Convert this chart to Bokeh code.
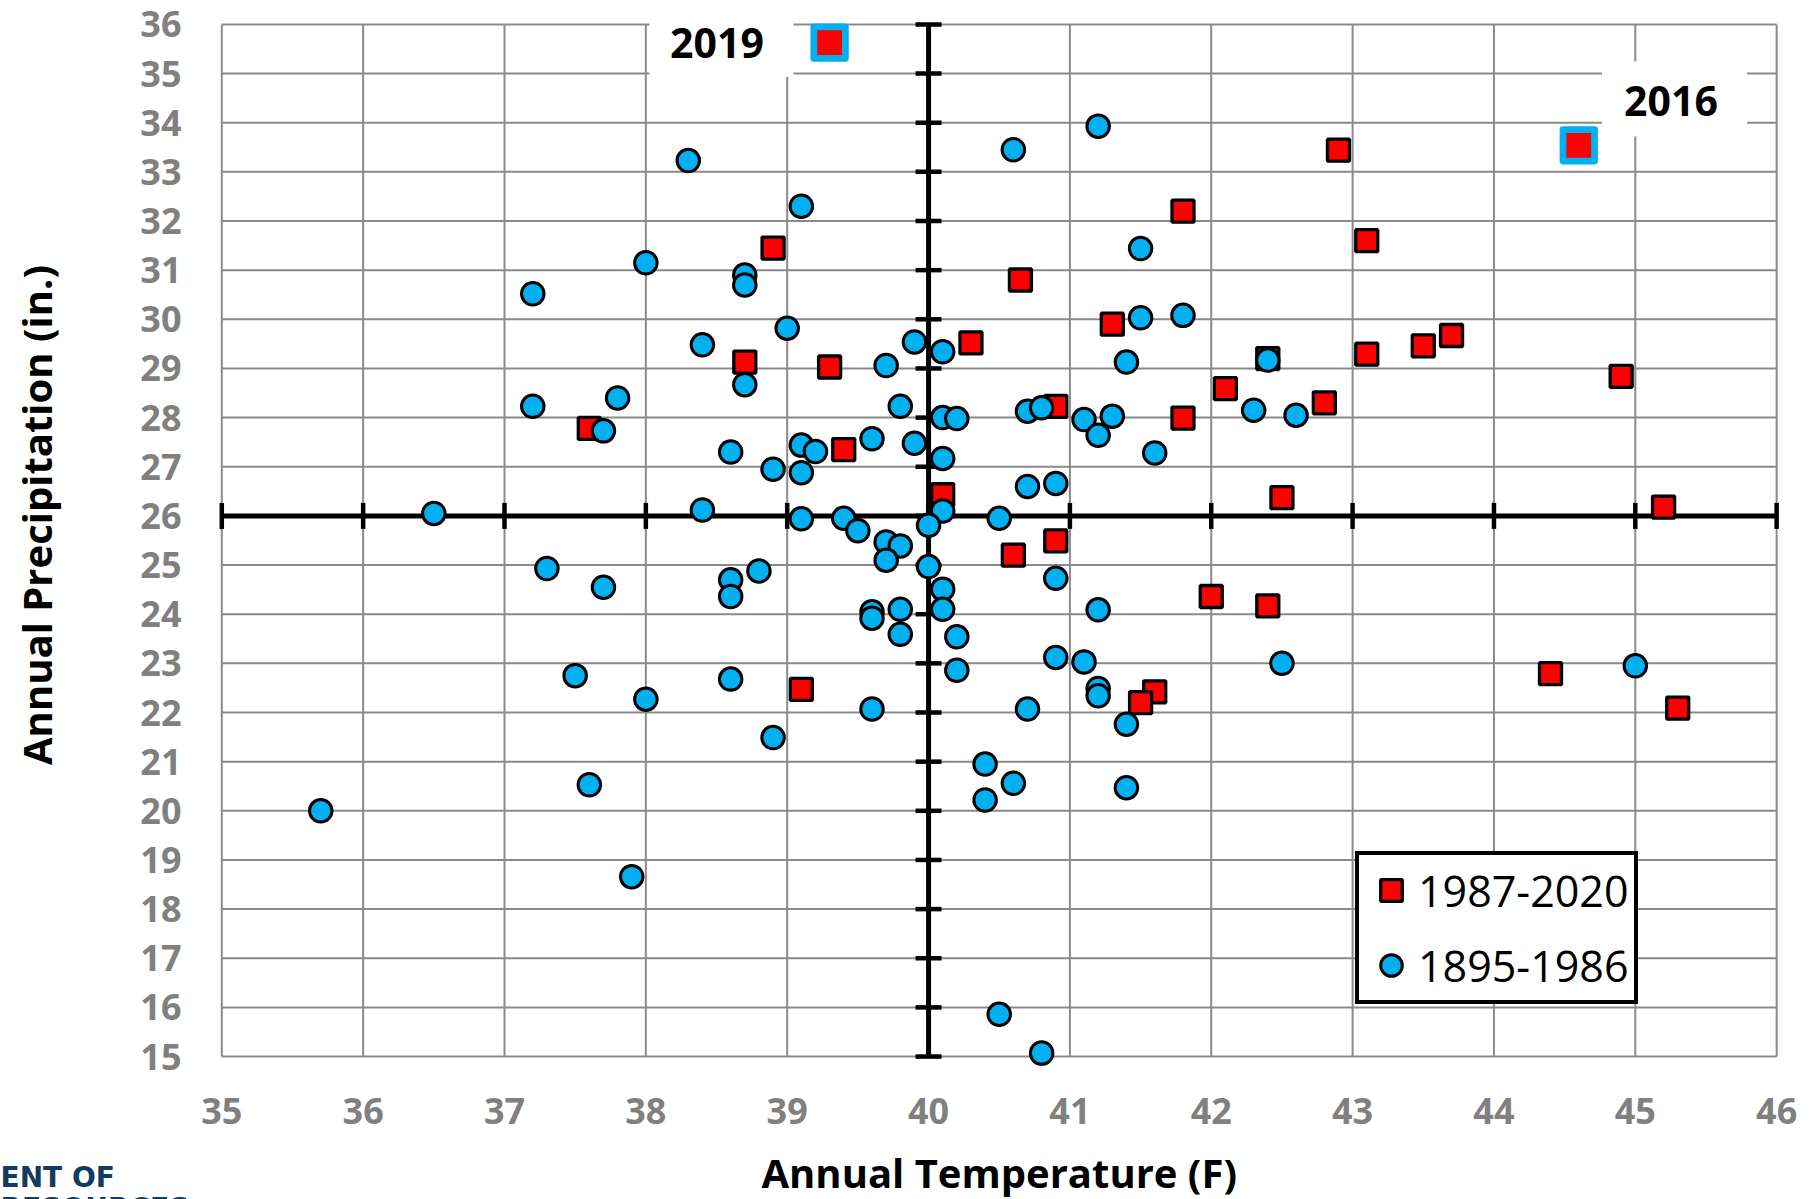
import math
from bokeh.plotting import figure
from bokeh.models import Range1d, Label, Legend, LegendItem
from bokeh.embed import file_html
from bokeh.resources import INLINE
from bokeh.core.properties import value

# ---------------- data ----------------
x_ticks = list(range(35, 47))
x_tick_labels = ["35", "36", "37", "38", "39", "40", "41", "42", "43", "44", "45", "46"]
y_ticks = list(range(15, 37))
y_tick_labels = ["15", "16", "17", "18", "19", "20", "21", "22", "23", "24", "25",
                 "26", "27", "28", "29", "30", "31", "32", "33", "34", "35", "36"]

recent_label = "1987-2020"
recent_temp = [42.9, 41.8, 43.1, 38.9, 40.65, 41.3, 43.7, 40.3, 43.5, 43.1,
               42.4, 38.7, 39.3, 44.9, 42.1, 42.8, 40.9, 41.8, 37.6, 39.4,
               40.1, 42.5, 45.2, 40.9, 40.6, 42.0, 42.4, 44.4, 39.1, 41.6,
               41.5, 45.3]
recent_precip = [33.44, 32.2, 31.6, 31.45, 30.8, 29.9, 29.67, 29.52, 29.46, 29.29,
                 29.2, 29.13, 29.03, 28.84, 28.59, 28.3, 28.23, 27.99, 27.78, 27.35,
                 26.43, 26.37, 26.18, 25.49, 25.2, 24.36, 24.17, 22.79, 22.47, 22.42,
                 22.2, 22.09]

highlight_years = ["2019", "2016"]
highlight_temp = [39.3, 44.6]
highlight_precip = [35.63, 33.54]

hist_label = "1895-1986"
hist_temp = [38.3, 39.1, 38.0, 38.7, 38.7, 37.2, 39.0, 38.4, 38.7, 37.2,
             37.8, 37.7, 38.6, 38.9, 39.1, 39.2, 39.1, 39.6, 38.4, 39.1,
             39.4, 39.5, 37.3, 37.7, 38.6, 38.6, 38.8, 39.6, 39.6, 37.5,
             38.0, 38.6, 39.6, 38.9, 37.6, 37.9, 41.2, 40.6, 41.5, 41.5,
             41.8, 39.9, 40.1, 39.7, 41.4, 42.3, 39.8, 40.1, 40.2, 40.7,
             40.8, 41.1, 41.3, 41.2, 41.6, 39.9, 40.1, 40.7, 40.9, 40.1,
             40.0, 40.5, 39.7, 39.8, 39.7, 40.0, 40.1, 40.1, 39.8, 39.8,
             40.2, 40.2, 40.9, 41.2, 40.9, 41.1, 41.2, 41.2, 41.4, 40.7,
             40.4, 40.6, 40.4, 41.4, 42.4, 42.6, 42.5, 45.0, 40.5, 40.8,
             35.7, 36.5]
hist_precip = [33.23, 32.3, 31.15, 30.9, 30.7, 30.52, 29.82, 29.48, 28.67, 28.23,
               28.4, 27.73, 27.3, 26.95, 27.44, 27.31, 26.88, 27.57, 26.12, 25.94,
               25.95, 25.7, 24.93, 24.55, 24.7, 24.36, 24.88, 24.05, 23.92, 22.75,
               22.27, 22.68, 22.07, 21.49, 20.53, 18.66, 33.93, 33.45, 31.44, 30.03,
               30.08, 29.54, 29.34, 29.06, 29.13, 28.15, 28.23, 28.0, 27.98, 28.13,
               28.2, 27.96, 28.03, 27.64, 27.28, 27.48, 27.17, 26.6, 26.66, 26.1,
               25.81, 25.95, 25.47, 25.39, 25.1, 24.97, 24.51, 24.1, 24.1, 23.59,
               23.54, 22.86, 24.73, 24.09, 23.12, 23.03, 22.49, 22.34, 21.76, 22.07,
               20.95, 20.56, 20.22, 20.47, 29.17, 28.05, 23.0, 22.95, 15.86, 15.07,
               20.0, 26.05]

x_title = "Annual Temperature (F)"
y_title = "Annual Precipitation (in.)"
logo_lines = ["ENT OF", "RESOURCES"]

# crossing point of the central axes
CROSS_T = 40
CROSS_P = 26

# ---------------- layout / styles ----------------
W, H = 1809, 1199
X35_PX, UX = 221.3, 141.35      # pixel of x=35, pixels per degree
Y36_PX, UY = 23.9, 49.15        # pixel of y=36, pixels per inch


def T_at(px):
    return x_ticks[0] + (px - X35_PX) / UX


def P_at(py):
    return y_ticks[-1] - (py - Y36_PX) / UY


RED = "#FF0000"
BLUE = "#00B0F0"
GRID = "#8a8a8a"
TICK_GRAY = "#808080"
NAVY = "#123a63"
FONT = "Open Sans"

p = figure(frame_width=W, frame_height=H,
           x_range=Range1d(T_at(0), T_at(W)),
           y_range=Range1d(P_at(H), P_at(0)),
           x_axis_type=None, y_axis_type=None,
           output_backend="svg", toolbar_location=None, min_border=0)
p.min_border_left = p.min_border_right = p.min_border_top = p.min_border_bottom = 0
p.outline_line_color = None
p.background_fill_color = "white"
p.border_fill_color = "white"
p.grid.visible = False

# grid lines
nx, ny = len(x_ticks), len(y_ticks)
p.segment(x0=x_ticks, y0=[y_ticks[0]] * nx, x1=x_ticks, y1=[y_ticks[-1]] * nx,
          line_color=GRID, line_width=2)
p.segment(x0=[x_ticks[0]] * ny, y0=y_ticks, x1=[x_ticks[-1]] * ny, y1=y_ticks,
          line_color=GRID, line_width=2)

# white boxes behind the year labels
p.rect(x=[T_at(721), T_at(1674)], y=[P_at(39), P_at(98.5)],
       width=[144, 145], height=[75, 75],
       width_units="screen", height_units="screen",
       fill_color="white", line_color=None)

# central axes with cross ticks
p.segment(x0=[CROSS_T], y0=[y_ticks[0]], x1=[CROSS_T], y1=[y_ticks[-1]],
          line_color="black", line_width=5)
p.segment(x0=[x_ticks[0]], y0=[CROSS_P], x1=[x_ticks[-1]], y1=[CROSS_P],
          line_color="black", line_width=5)
p.scatter(x=x_ticks, y=[CROSS_P] * nx, marker="dash", angle=math.pi / 2,
          size=26, line_color="black", line_width=4.5)
p.scatter(x=[CROSS_T] * ny, y=y_ticks, marker="dash", angle=0,
          size=26, line_color="black", line_width=4.5)

# tick labels
p.text(x=x_ticks, y=[P_at(1110)] * nx, text=x_tick_labels,
       text_font=value(FONT), text_font_style="bold", text_font_size="36px",
       text_color=TICK_GRAY, text_align="center", text_baseline="middle")
p.text(x=[T_at(181)] * ny, y=y_ticks, text=y_tick_labels,
       text_font=value(FONT), text_font_style="bold", text_font_size="36px",
       text_color=TICK_GRAY, text_align="right", text_baseline="middle")

# data
sq = p.scatter(x=recent_temp, y=recent_precip, marker="square", size=22,
               fill_color=RED, line_color="black", line_width=3.3)
ci = p.scatter(x=hist_temp, y=hist_precip, marker="circle", size=22.5,
               fill_color=BLUE, line_color="black", line_width=3)
p.scatter(x=highlight_temp, y=highlight_precip, marker="square", size=31.5,
          fill_color=RED, line_color=BLUE, line_width=6.8, line_join="round")

# year labels
year_label_x = [T_at(716.5), T_at(1670.5)]
year_label_y = [P_at(42.5), P_at(100.5)]
for yr, lx, ly in zip(highlight_years, year_label_x, year_label_y):
    p.add_layout(Label(x=lx, y=ly, text=yr, text_font=FONT, text_font_style="bold",
                       text_font_size="41px", text_color="black",
                       text_align="center", text_baseline="middle"))

# axis titles
p.add_layout(Label(x=T_at(998.7), y=P_at(1171.5), text=x_title, text_font=FONT,
                   text_font_style="bold", text_font_size="40px", text_color="black",
                   text_align="center", text_baseline="middle"))
p.add_layout(Label(x=T_at(36.2), y=P_at(514.5), text=y_title, angle=math.pi / 2,
                   text_font=FONT, text_font_style="bold", text_font_size="40px",
                   text_color="black", text_align="center", text_baseline="middle"))

# logo fragment, bottom left (cut by the picture's edges, as in the original)
for txt, cy in zip(logo_lines, [1176.5, 1207.5]):
    p.add_layout(Label(x=T_at(0), y=P_at(cy), text=txt, text_font="DejaVu Sans",
                       text_font_style="bold", text_font_size="28px", text_color=NAVY,
                       text_align="left", text_baseline="middle"))

legend = Legend(items=[LegendItem(label=recent_label, renderers=[sq]),
                       LegendItem(label=hist_label, renderers=[ci])],
                location=(1355, 195), border_line_color="black",
                border_line_width=4, border_line_alpha=1.0,
                padding=5, spacing=15, glyph_width=54, glyph_height=60,
                label_standoff=0, label_height=60, margin=0,
                label_text_font=FONT, label_text_font_size="43px",
                label_text_color="black", background_fill_color="white",
                background_fill_alpha=1.0)
p.add_layout(legend)

open("out.html", "w").write(file_html(p, INLINE))
